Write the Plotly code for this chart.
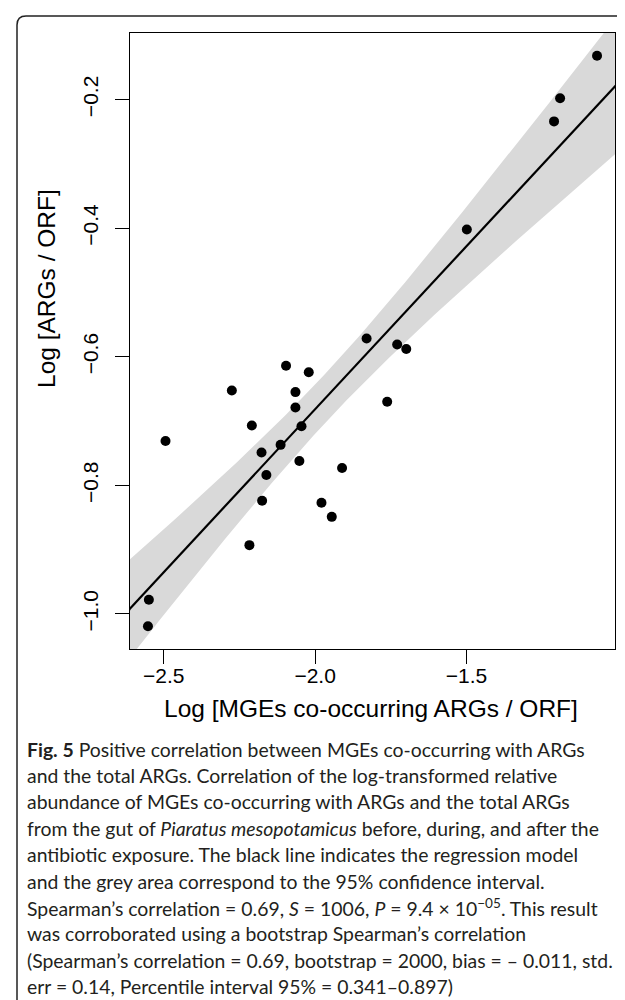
import numpy as np
import plotly.graph_objects as go

# ---- data ----
log_mges = [-1.830, -1.729, -1.699, -2.096, -2.021, -2.275, -2.065, -1.762, -2.065,
            -2.209, -2.045, -2.494, -2.114, -2.177, -2.052, -1.911, -2.161, -2.175,
            -1.979, -1.945, -2.217, -2.549, -2.552, -1.069, -1.191, -1.211, -1.499]
log_args = [-0.5715, -0.581, -0.588, -0.614, -0.624, -0.6525, -0.655, -0.670, -0.679,
            -0.707, -0.708, -0.731, -0.737, -0.749, -0.762, -0.773, -0.784, -0.824,
            -0.827, -0.849, -0.893, -0.978, -1.019, -0.132, -0.198, -0.234, -0.402]
x_ticks = [-2.5, -2.0, -1.5]
y_ticks = [-1.0, -0.8, -0.6, -0.4, -0.2]
x_title = "Log [MGEs co-occurring ARGs / ORF]"
y_title = "Log [ARGs / ORF]"
caption_lines = [
    "<b>Fig. 5</b> Positive correlation between MGEs co-occurring with ARGs",
    "and the total ARGs. Correlation of the log-transformed relative",
    "abundance of MGEs co-occurring with ARGs and the total ARGs",
    "from the gut of <i>Piaratus mesopotamicus</i> before, during, and after the",
    "antibiotic exposure. The black line indicates the regression model",
    "and the grey area correspond to the 95% confidence interval.",
    "Spearman’s correlation = 0.69, <i>S</i> = 1006, <i>P</i> = 9.4 × 10<sup>−05</sup>. This result",
    "was corroborated using a bootstrap Spearman’s correlation",
    "(Spearman’s correlation = 0.69, bootstrap = 2000, bias = – 0.011, std.",
    "err = 0.14, Percentile interval 95% = 0.341–0.897)",
]
T_975_DF25 = 2.0595  # t quantile for the 95% confidence band

# ---- linear model + confidence band ----
x = np.array(log_mges)
y = np.array(log_args)
n = len(x)
b1, b0 = np.polyfit(x, y, 1)
resid = y - (b0 + b1 * x)
s = np.sqrt(np.sum(resid ** 2) / (n - 2))
sxx = np.sum((x - x.mean()) ** 2)
grid = np.linspace(-2.8, -0.8, 200)
fit = b0 + b1 * grid
se = s * np.sqrt(1.0 / n + (grid - x.mean()) ** 2 / sxx)
upper = fit + T_975_DF25 * se
lower = fit - T_975_DF25 * se

# R-style 4% axis extension
def ext(v):
    lo, hi = min(v), max(v)
    d = (hi - lo) * 0.04
    return [lo - d, hi + d]

# ---- layout geometry (pixels) ----
W, H = 625, 1000
L, R, T, B = 122, 18, 25, 359
PW, PH = W - L - R, H - T - B

def px(xp):
    return (xp - L) / PW

def py(yp):
    return (H - B - yp) / PH

fig = go.Figure()
fig.add_trace(go.Scatter(
    x=np.concatenate([grid, grid[::-1]]), y=np.concatenate([upper, lower[::-1]]),
    fill="toself", fillcolor="#d9d9d9", line=dict(width=0), mode="lines",
    hoverinfo="skip", showlegend=False))
fig.add_trace(go.Scatter(x=grid, y=fit, mode="lines",
                         line=dict(color="black", width=2.2), showlegend=False))
fig.add_trace(go.Scatter(x=log_mges, y=log_args, mode="markers",
                         marker=dict(color="black", size=10), showlegend=False))

axis_font = dict(family="Liberation Sans, Arial, sans-serif", size=21, color="black")
fig.update_xaxes(range=ext(log_mges), tickvals=x_ticks, tickformat=".1f",
                 showgrid=False, zeroline=False, showline=True, linecolor="black",
                 linewidth=1.3, mirror=True, ticks="outside", ticklen=14,
                 tickwidth=1.3, tickcolor="black", tickfont=axis_font,
                 ticklabelstandoff=-6)
fig.update_yaxes(range=ext(log_args), tickvals=y_ticks, tickformat=".1f",
                 showgrid=False, zeroline=False, showline=True, linecolor="black",
                 linewidth=1.3, mirror=True, ticks="outside", ticklen=14,
                 tickwidth=1.3, tickcolor="black", tickfont=axis_font, tickangle=-90,
                 ticklabelstandoff=8)

title_font = dict(family="Liberation Sans, Arial, sans-serif", size=24.5, color="black")
annotations = [
    dict(text=x_title, x=px(363), y=py(700), xref="paper", yref="paper",
         showarrow=False, xanchor="center", yanchor="middle", font=title_font),
    dict(text=y_title, x=px(38), y=py(281), xref="paper", yref="paper",
         showarrow=False, xanchor="center", yanchor="middle", textangle=-90,
         font=title_font),
]
for i, line in enumerate(caption_lines):
    annotations.append(dict(text=line, x=px(17), y=py(741 + i * 26.4), xref="paper",
                            yref="paper", showarrow=False, xanchor="left",
                            yanchor="middle",
                            font=dict(family="Lato, Open Sans, sans-serif", size=19.4,
                                      color="#231f20")))

r = 9
bx0, by0, bx1, by1 = 9, 8, 650, 1001
path = (f"M {px(bx1)},{py(by1)} L {px(bx0 + r)},{py(by1)} "
        f"Q {px(bx0)},{py(by1)} {px(bx0)},{py(by1 - r)} "
        f"L {px(bx0)},{py(by0 + r)} Q {px(bx0)},{py(by0)} {px(bx0 + r)},{py(by0)} "
        f"L {px(bx1)},{py(by0)}")
fig.add_shape(type="path", path=path, xref="paper", yref="paper",
              line=dict(color="#222", width=1.5))

fig.update_layout(width=W, height=H, margin=dict(l=L, r=R, t=T, b=B),
                  plot_bgcolor="white", paper_bgcolor="white",
                  annotations=annotations, showlegend=False)
fig.write_html("out.html")
